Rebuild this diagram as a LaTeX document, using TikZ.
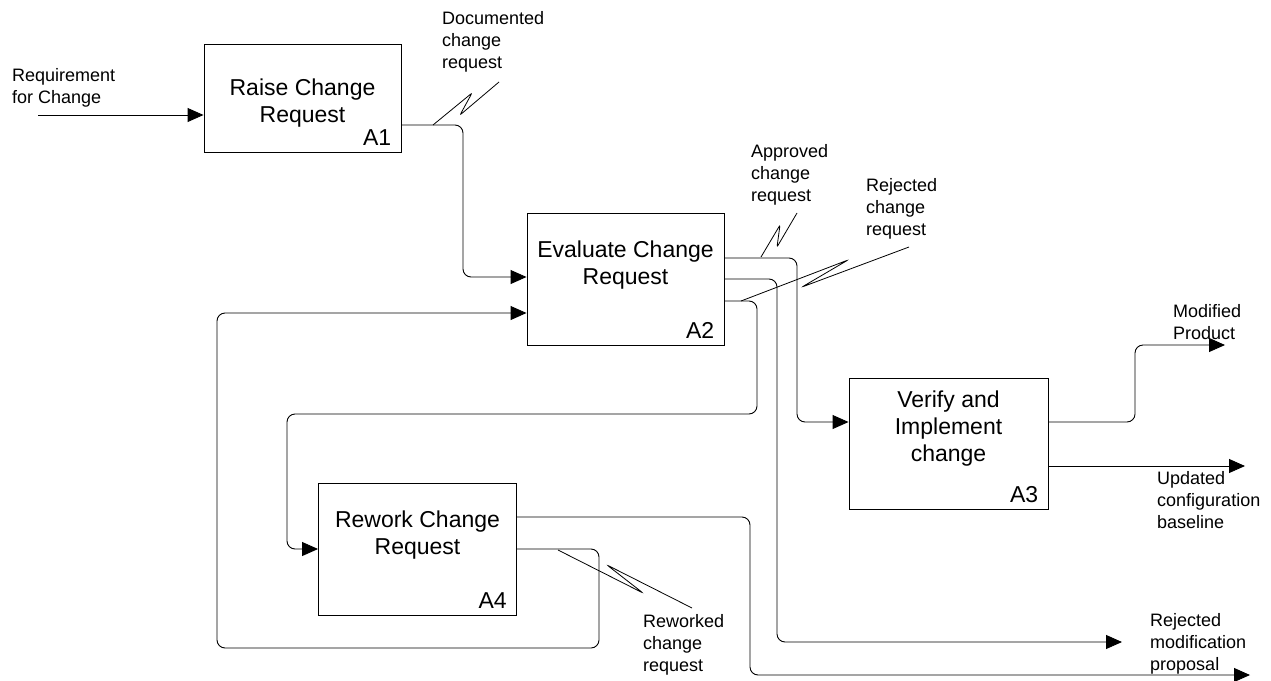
\documentclass[tikz,border=0pt]{standalone}
\usepackage{fontspec}
\setmainfont{Liberation Sans}
\usetikzlibrary{arrows.meta,calc}

\tikzset{
  box/.style={draw, line width=0.9pt, inner sep=0pt, rectangle},
  boxtitle/.style={inner sep=0pt, align=center, anchor=north,
    font=\fontsize{23}{27}\selectfont},
  boxnum/.style={inner sep=0pt, anchor=base east,
    font=\fontsize{23}{27}\selectfont},
  lbl/.style={inner sep=0pt, align=left, anchor=north west,
    font=\fontsize{18}{22}\selectfont},
  flow/.style={line width=0.9pt, rounded corners=8pt,
    -{Triangle[length=16pt,width=14pt]}},
  wire/.style={line width=0.9pt, rounded corners=8pt},
  squig/.style={line width=0.8pt, rounded corners=2pt}
}

\begin{document}
\begin{tikzpicture}[x=1pt,y=-1pt]
  \useasboundingbox (0,0) rectangle (1271,680);

  % activity boxes
  \node[box, minimum width=197pt, minimum height=108pt] (a1) at (302.5,98) {};
  \node[box, minimum width=197pt, minimum height=132pt] (a2) at (625.5,279) {};
  \node[box, minimum width=199pt, minimum height=131pt] (a3) at (948.5,443.5) {};
  \node[box, minimum width=198pt, minimum height=132pt] (a4) at (417.5,549) {};

  \node[boxtitle] (t1) at (302.5,79) {Raise Change\\Request};
  \node[boxtitle] (t2) at (625.5,241) {Evaluate Change\\Request};
  \node[boxtitle] (t3) at (948.5,391) {Verify and\\Implement\\change};
  \node[boxtitle] (t4) at (417.5,511) {Rework Change\\Request};

  \node[boxnum] (n1) at ($(a1.south east)+(-10,-7)$) {A1};
  \node[boxnum] (n2) at ($(a2.south east)+(-10,-7)$) {A2};
  \node[boxnum] (n3) at ($(a3.south east)+(-10,-7)$) {A3};
  \node[boxnum] (n4) at ($(a4.south east)+(-10,-7)$) {A4};

  % free ends of the external flows
  \coordinate (reqin) at (38,115);
  \coordinate (prodout) at (1225,345);
  \coordinate (baseout) at (1245,466);
  \coordinate (rejout) at (1122,642);
  \coordinate (propout) at (1250,675);

  % labels
  \node[lbl] (lreq) at (12,68) {Requirement\\for Change};
  \node[lbl] (ldoc) at (442,11) {Documented\\change\\request};
  \node[lbl] (lapp) at (751,144) {Approved\\change\\request};
  \node[lbl] (lrej) at (866,178) {Rejected\\change\\request};
  \node[lbl] (lmod) at (1173,304) {Modified\\Product};
  \node[lbl] (lupd) at (1157,471) {Updated\\configuration\\baseline};
  \node[lbl] (lrmp) at (1150,613) {Rejected\\modification\\proposal};
  \node[lbl] (lrwk) at (643,614) {Reworked\\change\\request};

  % input to A1
  \draw[flow] (reqin) -- (reqin -| a1.west);

  % A1 -> A2
  \draw[flow] (a1.east |- 0,125) -- (463,125) -- (463,277) -- (a2.west |- 0,277);

  % A2 -> A3
  \draw[flow] (a2.east |- 0,258) -- (797,258) -- (797,422) -- (a3.west |- 0,422);

  % A2 -> rejected modification proposal
  \draw[flow] (a2.east |- 0,279) -- (777,279) -- (777,642) -- (rejout);

  % A2 -> A4
  \draw[flow] (a2.east |- 0,301) -- (757,301) -- (757,414) -- (287,414)
    -- (287,549) -- (a4.west |- 0,549);

  % A4 -> A2 (reworked request)
  \draw[flow] (a4.east |- 0,549) -- (599,549) -- (599,648) -- (217,648)
    -- (217,313) -- (a2.west |- 0,313);

  % A4 -> proposal output
  \draw[flow] (a4.east |- 0,517) -- (750,517) -- (750,675) -- (propout);

  % A3 outputs
  \draw[flow] (a3.east |- 0,422) -- (1135,422) -- (1135,345) -- (prodout);
  \draw[flow] (a3.east |- 0,466) -- (baseout);

  % label squiggles
  \draw[squig] (433,125) -- (472,93) -- (460,115) -- (499,82);
  \draw[squig] (761,257) -- (780,225) -- (777,247) -- (797,213);
  \draw[squig] (741,301) -- (848,260) -- (802,287) -- (909,247);
  \draw[squig] (558,550) -- (643,593) -- (607,565) -- (692,608);
\end{tikzpicture}
\end{document}
